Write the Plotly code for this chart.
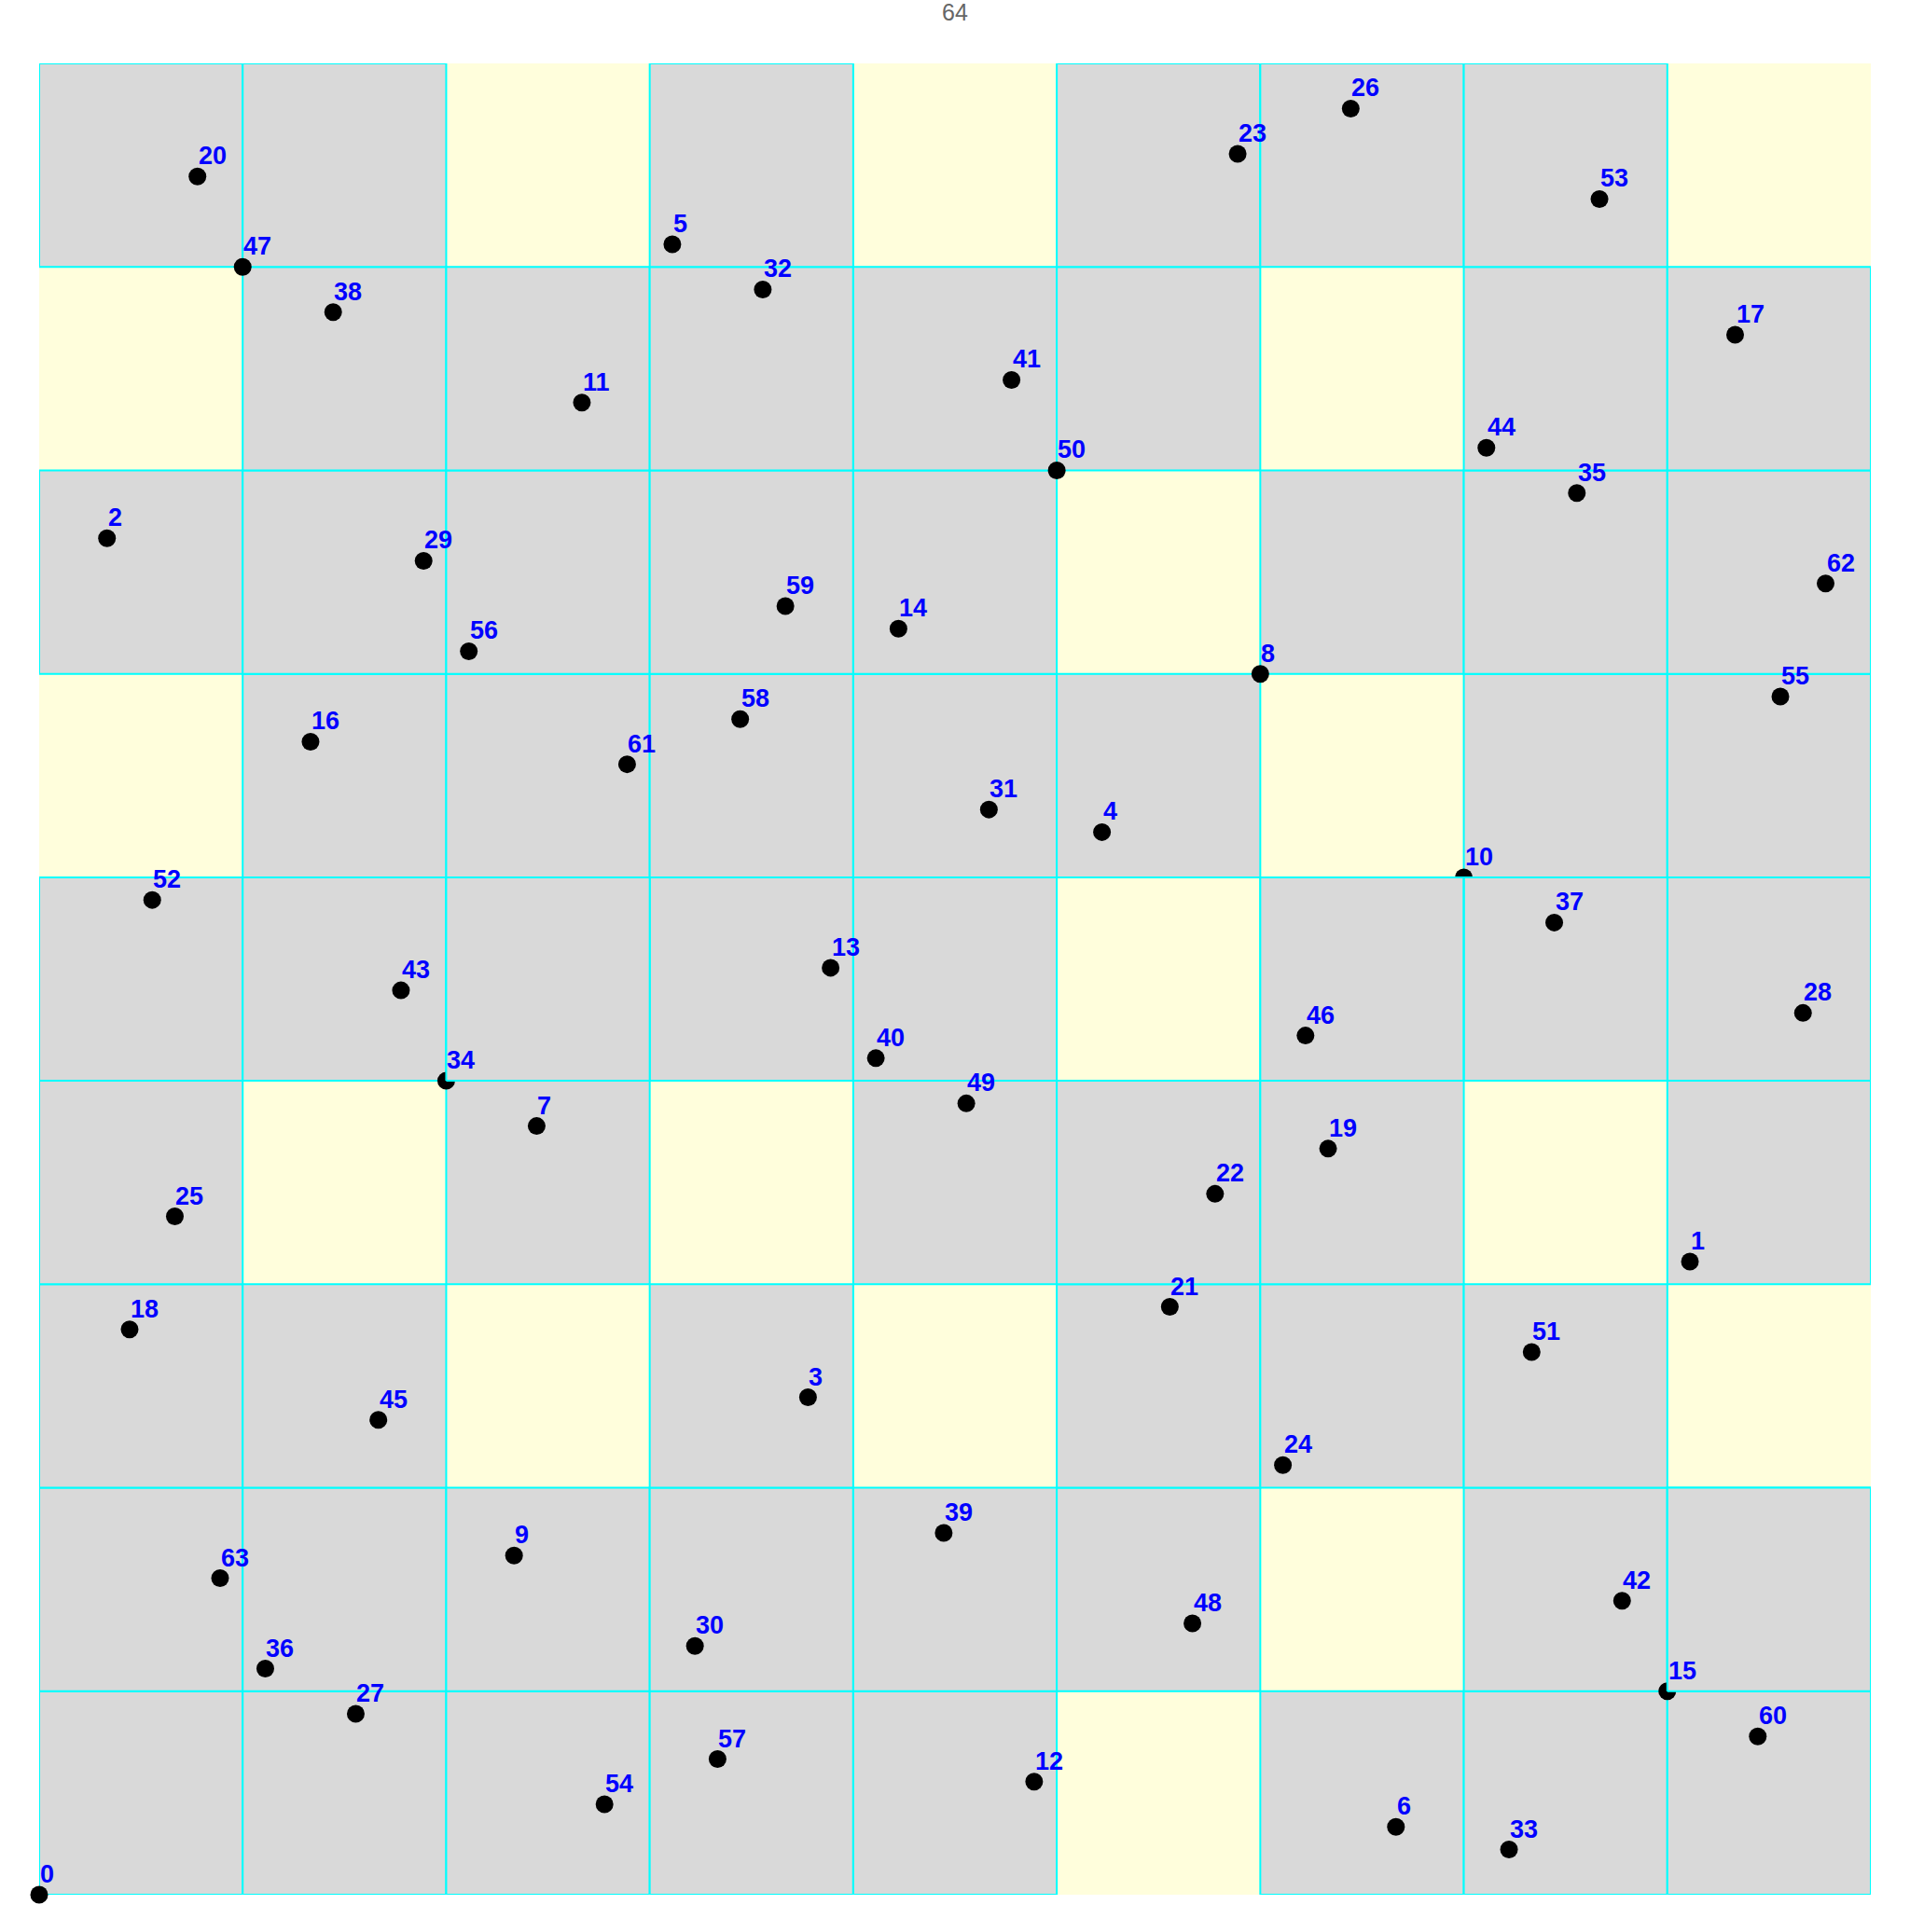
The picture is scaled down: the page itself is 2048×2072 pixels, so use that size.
import plotly.graph_objects as go

# ---- data (coordinates in units of 1/81 of the unit square) ----
labels = ["0", "1", "2", "3", "4", "5", "6", "7", "8", "9",
          "10", "11", "12", "13", "14", "15", "16", "17", "18", "19",
          "20", "21", "22", "23", "24", "25", "26", "27", "28", "29",
          "30", "31", "32", "33", "34", "35", "36", "37", "38", "39",
          "40", "41", "42", "43", "44", "45", "46", "47", "48", "49",
          "50", "51", "52", "53", "54", "55", "56", "57", "58", "59",
          "60", "61", "62", "63"]
pt_x = [0, 73, 3, 34, 47, 28, 60, 22, 54, 21,
        63, 24, 44, 35, 38, 72, 12, 75, 4, 57,
        7, 50, 52, 53, 55, 6, 58, 14, 78, 17,
        29, 42, 32, 65, 18, 68, 10, 67, 13, 40,
        37, 43, 70, 16, 64, 15, 56, 9, 51, 41,
        45, 66, 5, 69, 25, 77, 19, 30, 31, 33,
        76, 26, 79, 8]
pt_y = [0, 28, 60, 22, 47, 73, 3, 34, 54, 15,
        45, 66, 5, 41, 56, 9, 51, 69, 25, 33,
        76, 26, 31, 77, 19, 30, 79, 8, 39, 59,
        11, 48, 71, 2, 36, 62, 10, 43, 70, 16,
        37, 67, 13, 40, 64, 21, 38, 72, 12, 35,
        63, 24, 44, 75, 4, 53, 55, 6, 52, 57,
        7, 50, 58, 14]
title_text = "64"
n_strata = 9
grid_res = 81
# cells that, in the reference, were painted after (over) the dots on their corners
cells_over_markers = [(2, 4), (8, 1), (6, 4), (7, 4)]

# ---- styles ----
GRAY = "#D9D9D9"
YELLOW = "#FFFEDC"
CYAN = "#00FFFF"
LINE_W = 2
FONT = "Liberation Sans, Arial, sans-serif"
step = grid_res // n_strata

occupied = set()
for x, y in zip(pt_x, pt_y):
    occupied.add((x // step, y // step))

shapes = []
# empty cells first (no border), then occupied cells with cyan border
for c in range(n_strata):
    for r in range(n_strata):
        if (c, r) not in occupied:
            shapes.append(dict(type="rect", xref="x", yref="y",
                               x0=c * step, x1=(c + 1) * step,
                               y0=r * step, y1=(r + 1) * step,
                               fillcolor=YELLOW, line=dict(width=0), layer="below"))
for c in range(n_strata):
    for r in range(n_strata):
        if (c, r) in occupied:
            shapes.append(dict(type="rect", xref="x", yref="y",
                               x0=c * step, x1=(c + 1) * step,
                               y0=r * step, y1=(r + 1) * step,
                               fillcolor=GRAY, line=dict(color=CYAN, width=LINE_W),
                               layer="below"))

fig = go.Figure()
fig.add_trace(go.Scatter(x=pt_x, y=pt_y, mode="markers",
                         marker=dict(color="black", size=19, line=dict(width=0)),
                         cliponaxis=False, hoverinfo="text", text=labels,
                         showlegend=False))

# cells painted over the corner dots
px, py = [], []
for c, r in cells_over_markers:
    x0, x1, y0, y1 = c * step, (c + 1) * step, r * step, (r + 1) * step
    px += [x0, x1, x1, x0, x0, None]
    py += [y0, y0, y1, y1, y0, None]
fig.add_trace(go.Scatter(x=px, y=py, mode="lines", fill="toself",
                         fillcolor=GRAY, line=dict(color=CYAN, width=LINE_W),
                         hoverinfo="skip", showlegend=False, cliponaxis=False))

# dots lying strictly inside those cells are redrawn on top
ix, iy = [], []
for x, y in zip(pt_x, pt_y):
    if (x // step, y // step) in cells_over_markers and (x % step != 0 or y % step != 0):
        ix.append(x)
        iy.append(y)
fig.add_trace(go.Scatter(x=ix, y=iy, mode="markers",
                         marker=dict(color="black", size=19, line=dict(width=0)),
                         hoverinfo="skip", showlegend=False, cliponaxis=False))

annotations = []
for x, y, t in zip(pt_x, pt_y, labels):
    annotations.append(dict(x=x, y=y, xref="x", yref="y", text="<b>%s</b>" % t,
                            showarrow=False, xanchor="left", yanchor="bottom",
                            xshift=-1, yshift=5,
                            font=dict(family=FONT, size=27, color="#0000FF")))

fig.update_layout(
    width=2048, height=2072,
    margin=dict(l=42, r=42, t=68, b=40),
    paper_bgcolor="white", plot_bgcolor="white",
    shapes=shapes, annotations=annotations,
    title=dict(text=title_text, x=0.5, xanchor="center", xref="paper",
               y=1.0, yref="container", yanchor="top", pad=dict(t=4),
               font=dict(family=FONT, size=25, color="#666666")),
    xaxis=dict(range=[0, grid_res], visible=False, fixedrange=True),
    yaxis=dict(range=[0, grid_res], visible=False, fixedrange=True),
)

fig.write_html("out.html", config=dict(displayModeBar=False),
               post_script="document.body.style.margin='0px';document.body.style.overflow='hidden';")
